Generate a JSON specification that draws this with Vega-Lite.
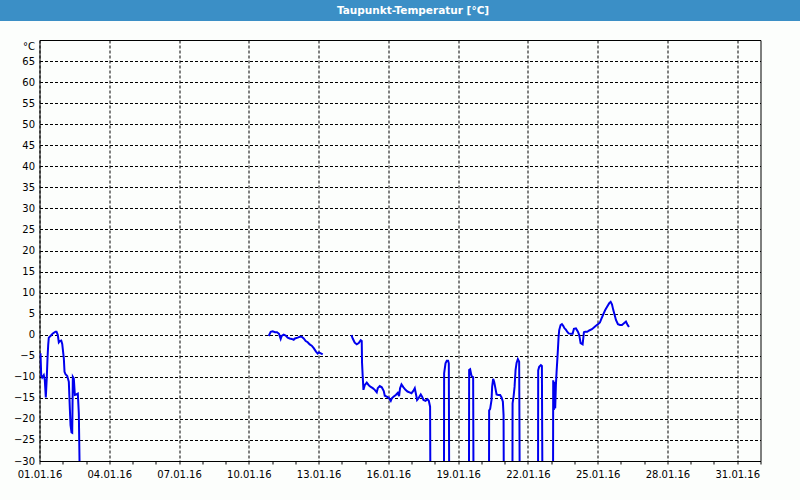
{
  "$schema": "https://vega.github.io/schema/vega-lite/v6.json",
  "background": "#fcfefc",
  "padding": {"left": 0, "top": 0, "right": 0, "bottom": 20},
  "spacing": 19,
  "bounds": "flush",
  "center": true,
  "config": {"font": "DejaVu Sans", "view": {"stroke": null}},
  "vconcat": [
    {
      "width": 800,
      "height": 21,
      "view": {"fill": "#3b8fc6", "stroke": null},
      "data": {"values": [{"label": "Taupunkt-Temperatur [°C]"}]},
      "mark": {"type": "text", "color": "white", "font": "DejaVu Sans", "fontSize": 10.5, "fontWeight": "bold", "dx": 13, "baseline": "middle", "align": "center"},
      "encoding": {"text": {"field": "label"}}
    },
    {
      "width": 721,
      "height": 421,
      "view": {"fill": "#fcfefc", "stroke": "black", "strokeWidth": 1},
      "data": {"values": [
        {"t": "2016-01-01T01:02", "v": -4.4, "seg": "a"},
        {"t": "2016-01-01T01:45", "v": -9.6, "seg": "a"},
        {"t": "2016-01-01T02:47", "v": -10.2, "seg": "a"},
        {"t": "2016-01-01T04:26", "v": -9.6, "seg": "a"},
        {"t": "2016-01-01T05:28", "v": -10.8, "seg": "a"},
        {"t": "2016-01-01T06:30", "v": -14.9, "seg": "a"},
        {"t": "2016-01-01T07:32", "v": -10.1, "seg": "a"},
        {"t": "2016-01-01T08:16", "v": -5.6, "seg": "a"},
        {"t": "2016-01-01T08:59", "v": -2.4, "seg": "a"},
        {"t": "2016-01-01T09:36", "v": -0.7, "seg": "a"},
        {"t": "2016-01-01T11:22", "v": -0.3, "seg": "a"},
        {"t": "2016-01-01T13:44", "v": 0.3, "seg": "a"},
        {"t": "2016-01-01T16:31", "v": 0.7, "seg": "a"},
        {"t": "2016-01-01T17:33", "v": 0.7, "seg": "a"},
        {"t": "2016-01-01T18:54", "v": -0.1, "seg": "a"},
        {"t": "2016-01-01T19:55", "v": -1.8, "seg": "a"},
        {"t": "2016-01-01T20:57", "v": -1.5, "seg": "a"},
        {"t": "2016-01-01T22:25", "v": -1.4, "seg": "a"},
        {"t": "2016-01-01T23:27", "v": -2.2, "seg": "a"},
        {"t": "2016-01-02T01:06", "v": -5.6, "seg": "a"},
        {"t": "2016-01-02T01:49", "v": -8.8, "seg": "a"},
        {"t": "2016-01-02T02:51", "v": -9.4, "seg": "a"},
        {"t": "2016-01-02T04:36", "v": -9.8, "seg": "a"},
        {"t": "2016-01-02T06:16", "v": -11.2, "seg": "a"},
        {"t": "2016-01-02T07:18", "v": -17.5, "seg": "a"},
        {"t": "2016-01-02T08:01", "v": -21.5, "seg": "a"},
        {"t": "2016-01-02T09:03", "v": -23.2, "seg": "a"},
        {"t": "2016-01-02T09:46", "v": -23.3, "seg": "a"},
        {"t": "2016-01-02T10:24", "v": -10.0, "seg": "a"},
        {"t": "2016-01-02T11:25", "v": -10.4, "seg": "a"},
        {"t": "2016-01-02T12:27", "v": -14.3, "seg": "a"},
        {"t": "2016-01-02T13:54", "v": -14.2, "seg": "a"},
        {"t": "2016-01-02T15:33", "v": -14.0, "seg": "a"},
        {"t": "2016-01-02T16:35", "v": -18.7, "seg": "a"},
        {"t": "2016-01-02T17:18", "v": -30.0, "seg": "a"},
        {"t": "2016-01-02T17:37", "v": -60.0, "seg": "a"},

        {"t": "2016-01-10T20:30", "v": -0.3, "seg": "b"},
        {"t": "2016-01-10T22:34", "v": 0.7, "seg": "b"},
        {"t": "2016-01-11T00:37", "v": 0.8, "seg": "b"},
        {"t": "2016-01-11T03:00", "v": 0.6, "seg": "b"},
        {"t": "2016-01-11T05:04", "v": 0.6, "seg": "b"},
        {"t": "2016-01-11T07:08", "v": 0.2, "seg": "b"},
        {"t": "2016-01-11T08:53", "v": -1.0, "seg": "b"},
        {"t": "2016-01-11T09:55", "v": -0.3, "seg": "b"},
        {"t": "2016-01-11T11:58", "v": 0.0, "seg": "b"},
        {"t": "2016-01-11T14:02", "v": -0.2, "seg": "b"},
        {"t": "2016-01-11T16:06", "v": -0.7, "seg": "b"},
        {"t": "2016-01-11T18:10", "v": -0.9, "seg": "b"},
        {"t": "2016-01-11T20:14", "v": -1.0, "seg": "b"},
        {"t": "2016-01-11T22:18", "v": -1.2, "seg": "b"},
        {"t": "2016-01-11T23:38", "v": -0.9, "seg": "b"},
        {"t": "2016-01-12T02:26", "v": -0.7, "seg": "b"},
        {"t": "2016-01-12T04:30", "v": -0.5, "seg": "b"},
        {"t": "2016-01-12T06:34", "v": -0.5, "seg": "b"},
        {"t": "2016-01-12T08:38", "v": -0.9, "seg": "b"},
        {"t": "2016-01-12T10:42", "v": -1.5, "seg": "b"},
        {"t": "2016-01-12T12:46", "v": -1.8, "seg": "b"},
        {"t": "2016-01-12T14:50", "v": -2.3, "seg": "b"},
        {"t": "2016-01-12T16:54", "v": -2.6, "seg": "b"},
        {"t": "2016-01-12T18:58", "v": -3.2, "seg": "b"},
        {"t": "2016-01-12T21:20", "v": -4.0, "seg": "b"},
        {"t": "2016-01-12T23:05", "v": -4.5, "seg": "b"},
        {"t": "2016-01-13T00:26", "v": -4.2, "seg": "b"},
        {"t": "2016-01-13T04:15", "v": -4.7, "seg": "b"},

        {"t": "2016-01-14T09:53", "v": -0.1, "seg": "c"},
        {"t": "2016-01-14T11:14", "v": -0.9, "seg": "c"},
        {"t": "2016-01-14T13:18", "v": -1.9, "seg": "c"},
        {"t": "2016-01-14T15:22", "v": -2.3, "seg": "c"},
        {"t": "2016-01-14T17:25", "v": -2.0, "seg": "c"},
        {"t": "2016-01-14T19:29", "v": -1.3, "seg": "c"},
        {"t": "2016-01-14T20:31", "v": -1.5, "seg": "c"},
        {"t": "2016-01-14T20:50", "v": -6.7, "seg": "c"},
        {"t": "2016-01-14T21:33", "v": -10.0, "seg": "c"},
        {"t": "2016-01-14T22:17", "v": -13.1, "seg": "c"},
        {"t": "2016-01-14T23:37", "v": -12.0, "seg": "c"},
        {"t": "2016-01-15T01:42", "v": -11.4, "seg": "c"},
        {"t": "2016-01-15T03:46", "v": -12.0, "seg": "c"},
        {"t": "2016-01-15T05:50", "v": -12.4, "seg": "c"},
        {"t": "2016-01-15T07:54", "v": -12.7, "seg": "c"},
        {"t": "2016-01-15T09:58", "v": -13.1, "seg": "c"},
        {"t": "2016-01-15T12:01", "v": -13.7, "seg": "c"},
        {"t": "2016-01-15T13:03", "v": -12.7, "seg": "c"},
        {"t": "2016-01-15T15:07", "v": -12.2, "seg": "c"},
        {"t": "2016-01-15T17:11", "v": -12.5, "seg": "c"},
        {"t": "2016-01-15T19:15", "v": -13.4, "seg": "c"},
        {"t": "2016-01-15T20:17", "v": -14.5, "seg": "c"},
        {"t": "2016-01-15T22:21", "v": -14.7, "seg": "c"},
        {"t": "2016-01-16T00:24", "v": -15.0, "seg": "c"},
        {"t": "2016-01-16T02:28", "v": -15.7, "seg": "c"},
        {"t": "2016-01-16T03:30", "v": -15.1, "seg": "c"},
        {"t": "2016-01-16T05:34", "v": -14.7, "seg": "c"},
        {"t": "2016-01-16T07:38", "v": -14.3, "seg": "c"},
        {"t": "2016-01-16T09:42", "v": -13.8, "seg": "c"},
        {"t": "2016-01-16T11:02", "v": -14.6, "seg": "c"},
        {"t": "2016-01-16T12:04", "v": -12.7, "seg": "c"},
        {"t": "2016-01-16T13:32", "v": -11.8, "seg": "c"},
        {"t": "2016-01-16T15:36", "v": -12.5, "seg": "c"},
        {"t": "2016-01-16T17:40", "v": -13.1, "seg": "c"},
        {"t": "2016-01-16T19:44", "v": -13.5, "seg": "c"},
        {"t": "2016-01-16T21:48", "v": -13.7, "seg": "c"},
        {"t": "2016-01-16T23:51", "v": -13.9, "seg": "c"},
        {"t": "2016-01-17T01:55", "v": -13.3, "seg": "c"},
        {"t": "2016-01-17T03:16", "v": -12.7, "seg": "c"},
        {"t": "2016-01-17T04:18", "v": -13.9, "seg": "c"},
        {"t": "2016-01-17T05:38", "v": -15.5, "seg": "c"},
        {"t": "2016-01-17T07:23", "v": -15.0, "seg": "c"},
        {"t": "2016-01-17T09:27", "v": -14.2, "seg": "c"},
        {"t": "2016-01-17T10:48", "v": -14.7, "seg": "c"},
        {"t": "2016-01-17T12:14", "v": -15.5, "seg": "c"},
        {"t": "2016-01-17T14:18", "v": -15.7, "seg": "c"},
        {"t": "2016-01-17T16:22", "v": -15.3, "seg": "c"},
        {"t": "2016-01-17T17:43", "v": -15.7, "seg": "c"},
        {"t": "2016-01-17T19:03", "v": -17.1, "seg": "c"},
        {"t": "2016-01-17T19:47", "v": -60.0, "seg": "c"},
        {"t": "2016-01-18T09:13", "v": -60.0, "seg": "c"},
        {"t": "2016-01-18T09:32", "v": -9.2, "seg": "c"},
        {"t": "2016-01-18T10:58", "v": -6.8, "seg": "c"},
        {"t": "2016-01-18T12:18", "v": -6.2, "seg": "c"},
        {"t": "2016-01-18T13:39", "v": -6.2, "seg": "c"},
        {"t": "2016-01-18T14:22", "v": -6.8, "seg": "c"},
        {"t": "2016-01-18T15:05", "v": -60.0, "seg": "c"},
        {"t": "2016-01-19T11:02", "v": -60.0, "seg": "c"},
        {"t": "2016-01-19T11:21", "v": -8.4, "seg": "c"},
        {"t": "2016-01-19T12:23", "v": -8.2, "seg": "c"},
        {"t": "2016-01-19T13:49", "v": -9.8, "seg": "c"},
        {"t": "2016-01-19T15:29", "v": -10.1, "seg": "c"},
        {"t": "2016-01-19T16:12", "v": -60.0, "seg": "c"},
        {"t": "2016-01-20T07:41", "v": -60.0, "seg": "c"},
        {"t": "2016-01-20T07:59", "v": -18.0, "seg": "c"},
        {"t": "2016-01-20T09:01", "v": -17.6, "seg": "c"},
        {"t": "2016-01-20T10:28", "v": -15.5, "seg": "c"},
        {"t": "2016-01-20T11:05", "v": -12.4, "seg": "c"},
        {"t": "2016-01-20T12:07", "v": -10.5, "seg": "c"},
        {"t": "2016-01-20T13:09", "v": -11.2, "seg": "c"},
        {"t": "2016-01-20T14:11", "v": -12.4, "seg": "c"},
        {"t": "2016-01-20T15:39", "v": -14.2, "seg": "c"},
        {"t": "2016-01-20T17:17", "v": -14.3, "seg": "c"},
        {"t": "2016-01-20T19:21", "v": -14.3, "seg": "c"},
        {"t": "2016-01-20T20:48", "v": -14.9, "seg": "c"},
        {"t": "2016-01-20T22:09", "v": -15.9, "seg": "c"},
        {"t": "2016-01-20T22:52", "v": -19.1, "seg": "c"},
        {"t": "2016-01-20T23:30", "v": -60.0, "seg": "c"},
        {"t": "2016-01-21T07:51", "v": -60.0, "seg": "c"},
        {"t": "2016-01-21T08:10", "v": -16.3, "seg": "c"},
        {"t": "2016-01-21T09:12", "v": -14.7, "seg": "c"},
        {"t": "2016-01-21T10:13", "v": -12.4, "seg": "c"},
        {"t": "2016-01-21T11:15", "v": -8.4, "seg": "c"},
        {"t": "2016-01-21T12:17", "v": -6.7, "seg": "c"},
        {"t": "2016-01-21T13:38", "v": -5.8, "seg": "c"},
        {"t": "2016-01-21T14:58", "v": -6.4, "seg": "c"},
        {"t": "2016-01-21T16:00", "v": -60.0, "seg": "c"},
        {"t": "2016-01-22T10:18", "v": -60.0, "seg": "c"},
        {"t": "2016-01-22T10:36", "v": -8.5, "seg": "c"},
        {"t": "2016-01-22T11:38", "v": -7.6, "seg": "c"},
        {"t": "2016-01-22T13:23", "v": -7.2, "seg": "c"},
        {"t": "2016-01-22T14:25", "v": -7.4, "seg": "c"},
        {"t": "2016-01-22T15:27", "v": -60.0, "seg": "c"},
        {"t": "2016-01-23T01:46", "v": -60.0, "seg": "c"},
        {"t": "2016-01-23T02:05", "v": -10.8, "seg": "c"},
        {"t": "2016-01-23T02:48", "v": -17.9, "seg": "c"},
        {"t": "2016-01-23T03:31", "v": -11.2, "seg": "c"},
        {"t": "2016-01-23T04:09", "v": -17.5, "seg": "c"},
        {"t": "2016-01-23T04:52", "v": -12.0, "seg": "c"},
        {"t": "2016-01-23T05:35", "v": -8.8, "seg": "c"},
        {"t": "2016-01-23T06:13", "v": -6.4, "seg": "c"},
        {"t": "2016-01-23T06:56", "v": -3.6, "seg": "c"},
        {"t": "2016-01-23T07:39", "v": -0.5, "seg": "c"},
        {"t": "2016-01-23T08:17", "v": 1.1, "seg": "c"},
        {"t": "2016-01-23T09:43", "v": 2.3, "seg": "c"},
        {"t": "2016-01-23T11:04", "v": 2.5, "seg": "c"},
        {"t": "2016-01-23T12:24", "v": 2.1, "seg": "c"},
        {"t": "2016-01-23T13:51", "v": 1.5, "seg": "c"},
        {"t": "2016-01-23T15:11", "v": 1.2, "seg": "c"},
        {"t": "2016-01-23T16:32", "v": 0.7, "seg": "c"},
        {"t": "2016-01-23T17:58", "v": 0.3, "seg": "c"},
        {"t": "2016-01-23T20:04", "v": 0.2, "seg": "c"},
        {"t": "2016-01-23T22:08", "v": 0.2, "seg": "c"},
        {"t": "2016-01-23T23:28", "v": 1.4, "seg": "c"},
        {"t": "2016-01-24T01:32", "v": 1.5, "seg": "c"},
        {"t": "2016-01-24T03:36", "v": 0.7, "seg": "c"},
        {"t": "2016-01-24T04:57", "v": -0.1, "seg": "c"},
        {"t": "2016-01-24T06:23", "v": -2.0, "seg": "c"},
        {"t": "2016-01-24T08:27", "v": -2.3, "seg": "c"},
        {"t": "2016-01-24T09:48", "v": 0.6, "seg": "c"},
        {"t": "2016-01-24T11:08", "v": 0.7, "seg": "c"},
        {"t": "2016-01-24T13:12", "v": 0.7, "seg": "c"},
        {"t": "2016-01-24T15:16", "v": 1.0, "seg": "c"},
        {"t": "2016-01-24T18:03", "v": 1.3, "seg": "c"},
        {"t": "2016-01-24T20:07", "v": 1.7, "seg": "c"},
        {"t": "2016-01-24T22:11", "v": 2.1, "seg": "c"},
        {"t": "2016-01-25T00:14", "v": 2.5, "seg": "c"},
        {"t": "2016-01-25T02:18", "v": 2.9, "seg": "c"},
        {"t": "2016-01-25T03:39", "v": 3.7, "seg": "c"},
        {"t": "2016-01-25T05:43", "v": 4.8, "seg": "c"},
        {"t": "2016-01-25T07:47", "v": 5.9, "seg": "c"},
        {"t": "2016-01-25T09:52", "v": 6.7, "seg": "c"},
        {"t": "2016-01-25T11:55", "v": 7.5, "seg": "c"},
        {"t": "2016-01-25T13:22", "v": 7.8, "seg": "c"},
        {"t": "2016-01-25T14:43", "v": 7.2, "seg": "c"},
        {"t": "2016-01-25T16:03", "v": 5.9, "seg": "c"},
        {"t": "2016-01-25T17:30", "v": 4.7, "seg": "c"},
        {"t": "2016-01-25T18:50", "v": 3.5, "seg": "c"},
        {"t": "2016-01-25T20:54", "v": 2.5, "seg": "c"},
        {"t": "2016-01-25T22:58", "v": 2.3, "seg": "c"},
        {"t": "2016-01-26T01:02", "v": 2.3, "seg": "c"},
        {"t": "2016-01-26T03:06", "v": 2.7, "seg": "c"},
        {"t": "2016-01-26T05:10", "v": 3.1, "seg": "c"},
        {"t": "2016-01-26T06:30", "v": 2.5, "seg": "c"},
        {"t": "2016-01-26T08:15", "v": 1.8, "seg": "c"}
      ]},
      "mark": {"type": "line", "color": "#0000ee", "strokeWidth": 2, "clip": true},
      "encoding": {
        "x": {
          "field": "t",
          "type": "temporal",
          "scale": {"domain": [{"year": 2016, "month": 1, "date": 1}, {"year": 2016, "month": 2, "date": 1}]},
          "axis": {
            "title": null,
            "tickCount": {"interval": "day", "step": 1},
            "format": "%d.%m.%y",
            "labelExpr": "round((datum.value - datetime(2016,0,1)) / 86400000) % 3 == 0 ? datum.label : ''",
            "grid": true,
            "gridColor": "black",
            "gridDash": [3, 2],
            "gridOpacity": {"condition": {"test": "round((datum.value - datetime(2016,0,1)) / 86400000) % 3 == 0", "value": 1}, "value": 0},
            "ticks": true,
            "tickSize": 3,
            "tickColor": "black",
            "domainColor": "black",
            "labelFlush": false,
            "labelOverlap": false,
            "labelBound": false,
            "labelPadding": 5,
            "labelFont": "DejaVu Sans",
            "labelFontSize": 10,
            "labelColor": "black"
          }
        },
        "y": {
          "field": "v",
          "type": "quantitative",
          "scale": {"domain": [-30, 70], "nice": false, "zero": false},
          "axis": {
            "values": [-30, -25, -20, -15, -10, -5, 0, 5, 10, 15, 20, 25, 30, 35, 40, 45, 50, 55, 60, 65],
            "grid": true,
            "gridColor": "black",
            "gridDash": [3, 2],
            "gridOpacity": 1,
            "ticks": false,
            "domain": false,
            "labelPadding": 5,
            "labelFont": "DejaVu Sans",
            "labelFontSize": 10,
            "labelColor": "black",
            "title": "°C",
            "titleAngle": 0,
            "titleX": -5,
            "titleY": 6,
            "titleAlign": "right",
            "titleBaseline": "middle",
            "titleFont": "DejaVu Sans",
            "titleFontSize": 10,
            "titleFontWeight": "normal",
            "titleColor": "black"
          }
        },
        "detail": {"field": "seg", "type": "nominal"}
      }
    }
  ]
}
